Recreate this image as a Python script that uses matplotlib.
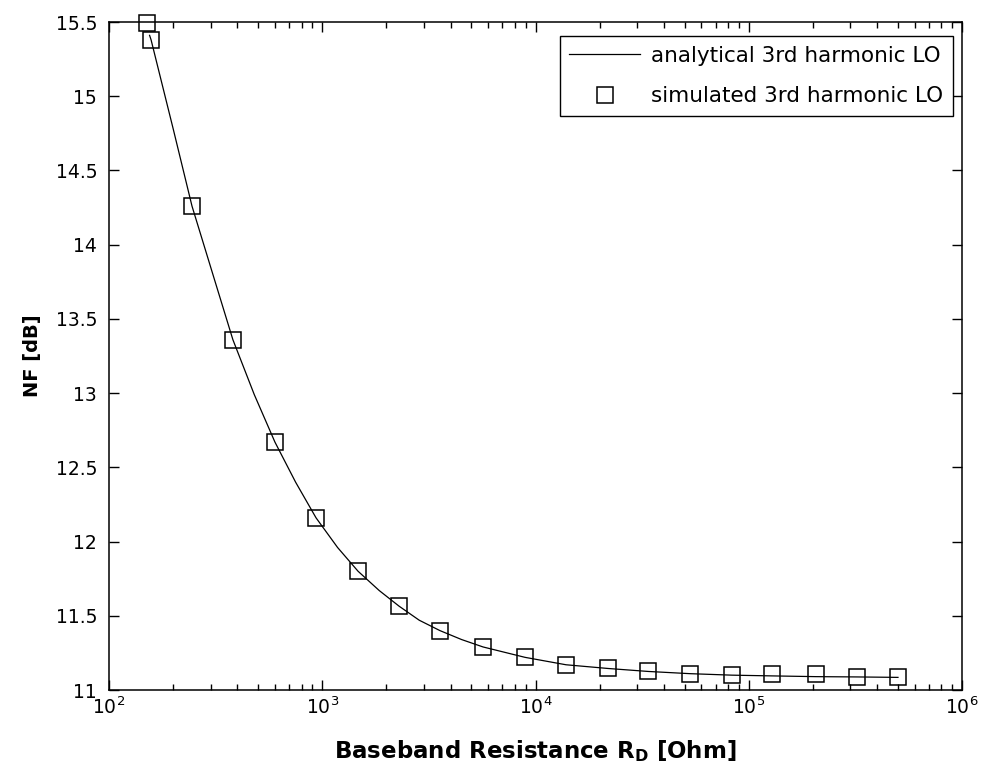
import numpy as np
import matplotlib.pyplot as plt
from matplotlib.ticker import LogLocator, MultipleLocator, NullFormatter

plt.rcParams['font.family'] = 'DejaVu Sans'
plt.rcParams['mathtext.fontset'] = 'dejavusans'

# baseband resistance sweep [Ohm] and noise figure [dB]
rb_sim = [151, 157.5, 245, 381, 600, 935, 1472, 2291, 3565, 5675,
          8929, 13900, 21880, 33740, 53100, 83400, 128500, 206500, 322000, 501000]
nf_sim = [15.49, 15.38, 14.26, 13.36, 12.67, 12.16, 11.80, 11.565, 11.40, 11.29,
          11.22, 11.17, 11.15, 11.13, 11.11, 11.10, 11.105, 11.105, 11.09, 11.085]

rb_ana = [155, 157.5, 200, 245, 310, 381, 480, 600, 750, 935, 1180, 1472, 1850,
          2291, 2850, 3565, 4500, 5675, 8929, 13900, 21880, 33740, 53100,
          83400, 128500, 206500, 322000, 501000]
nf_ana = [15.41, 15.38, 14.78, 14.26, 13.78, 13.36, 12.99, 12.67, 12.40, 12.16,
          11.96, 11.80, 11.67, 11.565, 11.47, 11.40, 11.34, 11.29, 11.22, 11.17,
          11.145, 11.125, 11.11, 11.10, 11.095, 11.09, 11.088, 11.085]

fig = plt.figure(figsize=(9.84, 7.71), dpi=100)
ax = fig.add_axes([109/984, 1-690/771, 853/984, 668/771])

ax.semilogx(rb_ana, nf_ana, '-', color='black', lw=0.9,
            label='analytical 3rd harmonic LO')
ax.semilogx(rb_sim, nf_sim, 's', mfc='none', mec='black', ms=11.5, mew=1.1,
            clip_on=False, label='simulated 3rd harmonic LO')

ax.set_xlim(1e2, 1e6)
ax.set_ylim(11, 15.5)
ax.yaxis.set_major_locator(MultipleLocator(0.5))
ax.yaxis.set_major_formatter(plt.FuncFormatter(lambda v, p: '%g' % v))
ax.xaxis.set_major_locator(LogLocator(base=10, numticks=10))
ax.xaxis.set_minor_locator(LogLocator(base=10, subs=np.arange(2, 10), numticks=10))
ax.xaxis.set_minor_formatter(NullFormatter())

ax.tick_params(which='both', direction='in', top=True, right=True,
               labelsize=13.5, width=1, colors='black')
ax.tick_params(which='major', length=7)
ax.tick_params(which='minor', length=4)
ax.tick_params(axis='x', pad=5)
ax.tick_params(axis='y', pad=8.5)
for s in ax.spines.values():
    s.set_linewidth(1.1)

ax.set_ylabel('NF [dB]', fontsize=14, fontweight='bold', labelpad=10)
ax.set_xlabel(r'Baseband Resistance R$_\mathbf{D}$ [Ohm]', fontsize=16.5,
              fontweight='bold', labelpad=14)

leg = fig.legend(loc='upper right', bbox_to_anchor=(953/984, 1-36/771),
                 bbox_transform=fig.transFigure, borderaxespad=0,
                 fancybox=False, edgecolor='black', framealpha=1,
                 fontsize=15.5, handlelength=3.3, borderpad=0.45,
                 labelspacing=0.95, handletextpad=0.5)
leg.get_frame().set_linewidth(1.0)

fig.savefig('out.png', dpi=100)
